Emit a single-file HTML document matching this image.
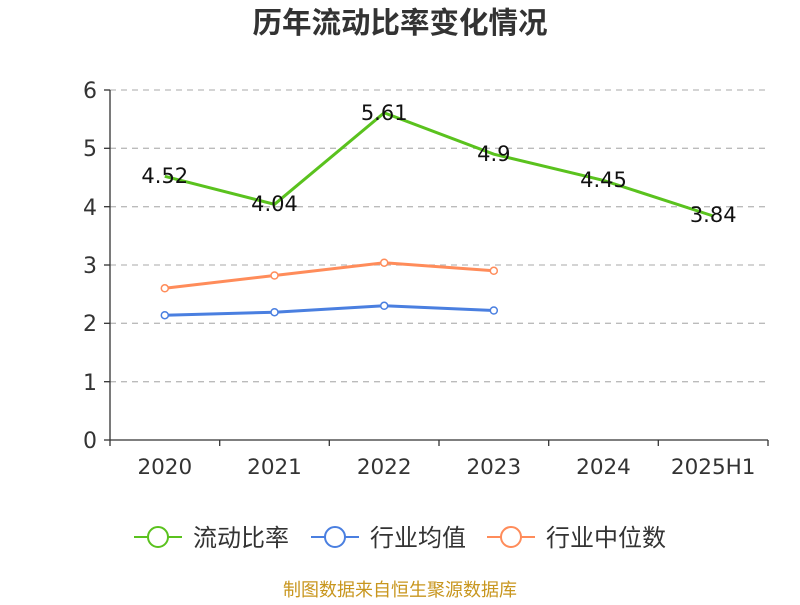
<!DOCTYPE html>
<html><head><meta charset="utf-8"><style>
body{margin:0;background:#fff}
svg text{font-family:"DejaVu Sans","Noto Sans CJK SC",sans-serif}
</style></head><body>
<svg width="800" height="600" viewBox="0 0 800 600" xmlns="http://www.w3.org/2000/svg">
<rect width="800" height="600" fill="#fff"/>
<text x="400" y="33" text-anchor="middle" font-size="29.5" font-weight="bold" fill="#333">历年流动比率变化情况</text>
<g stroke="#bbb" stroke-dasharray="6,5" stroke-width="1.3">
<line x1="110" y1="90" x2="768" y2="90"/>
<line x1="110" y1="148.3" x2="768" y2="148.3"/>
<line x1="110" y1="206.7" x2="768" y2="206.7"/>
<line x1="110" y1="265" x2="768" y2="265"/>
<line x1="110" y1="323.3" x2="768" y2="323.3"/>
<line x1="110" y1="381.7" x2="768" y2="381.7"/>
</g>
<g stroke="#333" stroke-width="1.3">
<line x1="110" y1="90" x2="110" y2="440"/>
<line x1="110" y1="440" x2="768" y2="440"/>
<line x1="104" y1="90" x2="110" y2="90"/><line x1="104" y1="148.3" x2="110" y2="148.3"/>
<line x1="104" y1="206.7" x2="110" y2="206.7"/><line x1="104" y1="265" x2="110" y2="265"/>
<line x1="104" y1="323.3" x2="110" y2="323.3"/><line x1="104" y1="381.7" x2="110" y2="381.7"/>
<line x1="104" y1="440" x2="110" y2="440"/>
<line x1="110" y1="440" x2="110" y2="446"/><line x1="219.7" y1="440" x2="219.7" y2="446"/>
<line x1="329.3" y1="440" x2="329.3" y2="446"/><line x1="439" y1="440" x2="439" y2="446"/>
<line x1="548.7" y1="440" x2="548.7" y2="446"/><line x1="658.3" y1="440" x2="658.3" y2="446"/>
<line x1="768" y1="440" x2="768" y2="446"/>
</g>
<g font-size="22" fill="#333" text-anchor="end">
<text x="97" y="98">6</text><text x="97" y="156">5</text><text x="97" y="215">4</text>
<text x="97" y="273">3</text><text x="97" y="331">2</text><text x="97" y="390">1</text><text x="97" y="448">0</text>
</g>
<g font-size="21.5" fill="#333" text-anchor="middle">
<text x="164.8" y="474">2020</text><text x="274.5" y="474">2021</text><text x="384.2" y="474">2022</text>
<text x="493.8" y="474">2023</text><text x="603.5" y="474">2024</text><text x="713.2" y="474">2025H1</text>
</g>
<polyline fill="none" stroke="#ff8c5a" stroke-width="3" points="164.8,288.3 274.5,275.5 384.2,262.7 493.8,270.8"/>
<g fill="#fff" stroke="#ff8c5a" stroke-width="1.5"><circle cx="164.8" cy="288.3" r="3.5"/><circle cx="274.5" cy="275.5" r="3.5"/><circle cx="384.2" cy="262.7" r="3.5"/><circle cx="493.8" cy="270.8" r="3.5"/></g>
<polyline fill="none" stroke="#4a7fe0" stroke-width="3" points="164.8,315.2 274.5,312.2 384.2,305.8 493.8,310.5"/>
<g fill="#fff" stroke="#4a7fe0" stroke-width="1.5"><circle cx="164.8" cy="315.2" r="3.5"/><circle cx="274.5" cy="312.2" r="3.5"/><circle cx="384.2" cy="305.8" r="3.5"/><circle cx="493.8" cy="310.5" r="3.5"/></g>
<polyline fill="none" stroke="#5ac21e" stroke-width="3" points="164.8,176.3 274.5,204.3 384.2,112.8 493.8,154.2 603.5,180.4 713.2,216"/>
<g font-size="21" fill="#111" text-anchor="middle">
<text x="164.8" y="183">4.52</text><text x="274.5" y="211">4.04</text><text x="384.2" y="120">5.61</text>
<text x="493.8" y="161">4.9</text><text x="603.5" y="187">4.45</text><text x="713.2" y="222">3.84</text>
</g>
<g stroke-width="2" fill="#fff">
<line x1="134" y1="537" x2="182" y2="537" stroke="#5ac21e"/><circle cx="158" cy="537" r="10" stroke="#5ac21e"/>
<line x1="311" y1="537" x2="359" y2="537" stroke="#4a7fe0"/><circle cx="335" cy="537" r="10" stroke="#4a7fe0"/>
<line x1="487" y1="537" x2="535" y2="537" stroke="#ff8c5a"/><circle cx="511" cy="537" r="10" stroke="#ff8c5a"/>
</g>
<g font-size="24" fill="#333">
<text x="193" y="546">流动比率</text><text x="370" y="546">行业均值</text><text x="546" y="546">行业中位数</text>
</g>
<text x="400" y="596" text-anchor="middle" font-size="18" fill="#c8961e">制图数据来自恒生聚源数据库</text>
</svg>
</body></html>
